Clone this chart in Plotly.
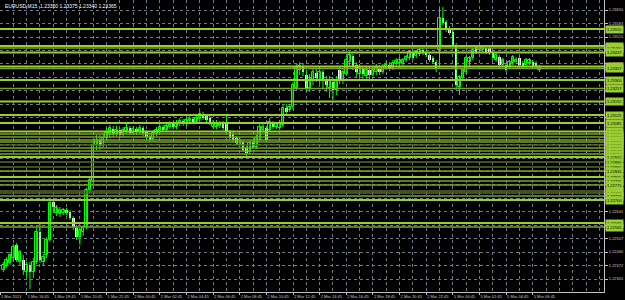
import plotly.graph_objects as go

# ---------------- data ----------------
opens = [1.22350,1.22370,1.22385,1.22410,1.22475,1.22390,1.22400,1.22340,1.22375,1.22340,
         1.22390,1.22540,1.22390,1.22425,1.22500,1.22690,1.22635,1.22630,1.22635,1.22650,
         1.22640,1.22610,1.22560,1.22515,1.22540,1.22565,1.22750,1.22790,1.22975,1.23000,
         1.22970,1.23010,1.23025,1.23055,1.23030,1.23050,1.23025,1.23045,1.23060,1.23035,
         1.23055,1.23040,1.23060,1.23040,1.23020,1.23005,1.23030,1.23045,1.23065,1.23050,
         1.23065,1.23080,1.23065,1.23080,1.23095,1.23080,1.23095,1.23105,1.23090,1.23105,
         1.23125,1.23120,1.23110,1.23065,1.23065,1.23070,1.23085,1.23090,1.23040,1.23030,
         1.23010,1.22975,1.22990,1.22960,1.22940,1.22990,1.22965,1.23000,1.23050,1.23060,
         1.23050,1.23085,1.23065,1.23060,1.23075,1.23160,1.23150,1.23165,1.23260,1.23350,
         1.23370,1.23325,1.23260,1.23300,1.23335,1.23300,1.23340,1.23300,1.23260,1.23290,
         1.23250,1.23350,1.23300,1.23330,1.23390,1.23420,1.23375,1.23330,1.23360,1.23320,
         1.23350,1.23325,1.23340,1.23360,1.23340,1.23360,1.23375,1.23360,1.23380,1.23385,
         1.23380,1.23400,1.23410,1.23440,1.23420,1.23430,1.23450,1.23440,1.23425,1.23410,
         1.23390,1.23450,1.23610,1.23590,1.23560,1.23540,1.23475,1.23265,1.23310,1.23340,
         1.23390,1.23410,1.23465,1.23450,1.23450,1.23460,1.23460,1.23435,1.23400,1.23415,
         1.23375,1.23375,1.23365,1.23385,1.23390,1.23410,1.23385,1.23375,1.23385,1.23390,
         1.23385,1.23350]
highs = [1.22390,1.22415,1.22440,1.22480,1.22485,1.22450,1.22425,1.22390,1.22390,1.22410,
         1.22560,1.22590,1.22430,1.22515,1.22695,1.22705,1.22675,1.22665,1.22660,1.22660,
         1.22650,1.22620,1.22575,1.22560,1.22575,1.22760,1.22810,1.23000,1.23025,1.23025,
         1.23035,1.23060,1.23075,1.23070,1.23070,1.23060,1.23065,1.23080,1.23070,1.23070,
         1.23065,1.23075,1.23070,1.23050,1.23035,1.23050,1.23065,1.23080,1.23075,1.23085,
         1.23095,1.23090,1.23100,1.23110,1.23105,1.23115,1.23120,1.23115,1.23125,1.23145,
         1.23140,1.23130,1.23120,1.23100,1.23100,1.23095,1.23095,1.23125,1.23050,1.23040,
         1.23020,1.23015,1.23000,1.22970,1.23000,1.23000,1.23025,1.23080,1.23080,1.23070,
         1.23110,1.23095,1.23090,1.23100,1.23175,1.23180,1.23180,1.23290,1.23380,1.23390,
         1.23385,1.23350,1.23330,1.23360,1.23360,1.23370,1.23350,1.23320,1.23320,1.23310,
         1.23320,1.23370,1.23360,1.23420,1.23440,1.23430,1.23390,1.23380,1.23370,1.23370,
         1.23365,1.23370,1.23380,1.23375,1.23380,1.23395,1.23390,1.23400,1.23410,1.23415,
         1.23410,1.23425,1.23450,1.23450,1.23450,1.23460,1.23460,1.23450,1.23435,1.23420,
         1.23400,1.23660,1.23665,1.23600,1.23570,1.23550,1.23485,1.23325,1.23360,1.23420,
         1.23420,1.23460,1.23475,1.23475,1.23475,1.23470,1.23470,1.23445,1.23435,1.23425,
         1.23410,1.23385,1.23400,1.23425,1.23415,1.23420,1.23395,1.23410,1.23410,1.23400,
         1.23395,1.23375]
lows = [1.22340,1.22360,1.22375,1.22390,1.22390,1.22375,1.22325,1.22315,1.22255,1.22310,
        1.22380,1.22385,1.22370,1.22410,1.22490,1.22650,1.22620,1.22615,1.22625,1.22625,
        1.22600,1.22550,1.22500,1.22475,1.22520,1.22555,1.22735,1.22775,1.22950,1.22950,
        1.22960,1.23000,1.23010,1.23015,1.23020,1.23010,1.23015,1.23030,1.23025,1.23025,
        1.23025,1.23030,1.23020,1.23005,1.22990,1.22995,1.23020,1.23035,1.23040,1.23040,
        1.23055,1.23055,1.23055,1.23070,1.23070,1.23070,1.23085,1.23080,1.23080,1.23095,
        1.23100,1.23090,1.23075,1.23055,1.23055,1.23060,1.23050,1.23030,1.23000,1.22990,
        1.22975,1.22965,1.22940,1.22910,1.22930,1.22955,1.22955,1.22990,1.23040,1.22990,
        1.23040,1.23055,1.23055,1.23050,1.23065,1.23130,1.23140,1.23155,1.23250,1.23325,
        1.23320,1.23240,1.23240,1.23275,1.23290,1.23280,1.23260,1.23240,1.23210,1.23200,
        1.23225,1.23280,1.23280,1.23320,1.23370,1.23350,1.23310,1.23310,1.23300,1.23300,
        1.23305,1.23310,1.23325,1.23325,1.23330,1.23350,1.23345,1.23350,1.23370,1.23370,
        1.23370,1.23390,1.23400,1.23400,1.23410,1.23420,1.23425,1.23415,1.23390,1.23380,
        1.23340,1.23370,1.23575,1.23540,1.23525,1.23465,1.23250,1.23225,1.23300,1.23330,
        1.23365,1.23400,1.23430,1.23440,1.23440,1.23430,1.23425,1.23400,1.23390,1.23360,
        1.23365,1.23340,1.23355,1.23375,1.23380,1.23365,1.23355,1.23365,1.23375,1.23360,
        1.23355,1.23340]
closes = [1.22375,1.22400,1.22425,1.22465,1.22400,1.22440,1.22350,1.22375,1.22340,1.22390,
          1.22540,1.22400,1.22415,1.22500,1.22685,1.22665,1.22660,1.22650,1.22650,1.22635,
          1.22610,1.22565,1.22515,1.22550,1.22565,1.22750,1.22800,1.22975,1.23000,1.22970,
          1.23010,1.23035,1.23060,1.23030,1.23050,1.23025,1.23050,1.23060,1.23035,1.23055,
          1.23040,1.23060,1.23035,1.23015,1.23000,1.23035,1.23050,1.23065,1.23050,1.23070,
          1.23080,1.23065,1.23085,1.23095,1.23080,1.23100,1.23105,1.23090,1.23110,1.23130,
          1.23110,1.23100,1.23085,1.23085,1.23080,1.23080,1.23060,1.23040,1.23010,1.23000,
          1.22985,1.23000,1.22950,1.22935,1.22985,1.22965,1.23010,1.23065,1.23065,1.23000,
          1.23090,1.23065,1.23080,1.23080,1.23160,1.23140,1.23165,1.23275,1.23360,1.23370,
          1.23340,1.23260,1.23310,1.23340,1.23310,1.23340,1.23300,1.23275,1.23300,1.23250,
          1.23300,1.23300,1.23340,1.23400,1.23425,1.23370,1.23340,1.23360,1.23330,1.23350,
          1.23325,1.23350,1.23360,1.23340,1.23365,1.23375,1.23360,1.23385,1.23395,1.23400,
          1.23400,1.23415,1.23440,1.23410,1.23440,1.23450,1.23435,1.23425,1.23400,1.23390,
          1.23360,1.23610,1.23585,1.23550,1.23535,1.23475,1.23275,1.23315,1.23350,1.23410,
          1.23410,1.23450,1.23440,1.23465,1.23465,1.23440,1.23435,1.23410,1.23425,1.23375,
          1.23400,1.23350,1.23390,1.23415,1.23400,1.23375,1.23365,1.23400,1.23400,1.23370,
          1.23365,1.23365]
bars = list(range(1, len(opens) + 1))

time_labels = ["1 Mar 2013", "1 Mar 16:45", "1 Mar 18:45", "1 Mar 20:45", "1 Mar 22:45",
               "2 Mar 00:45", "2 Mar 02:45", "2 Mar 04:45", "2 Mar 06:45", "2 Mar 08:45",
               "2 Mar 10:45", "2 Mar 12:45", "2 Mar 14:45", "2 Mar 16:45", "2 Mar 18:45",
               "2 Mar 20:45", "2 Mar 22:45", "5 Mar 00:45", "5 Mar 02:45", "5 Mar 04:45",
               "5 Mar 06:45"]
time_label_bars = [0, 8, 16, 24, 32, 40, 48, 56, 64, 72, 80, 88, 96, 104, 112, 120,
                   128, 136, 144, 152, 160]

# price-scale grid values and the labels shown (blank where hidden by level boxes)
price_grid = [1.23650, 1.23583, 1.23515, 1.23448, 1.23381, 1.23314, 1.23246, 1.23179,
              1.23112, 1.23045, 1.22978, 1.22910, 1.22843, 1.22776, 1.22709, 1.22641,
              1.22574, 1.22507, 1.22440, 1.22372, 1.22305]
price_grid_text = ["1.23650", "1.23583", "1.23515", "", "1.23381", "", "", "",
                   "", "", "", "", "", "", "", "1.22641",
                   "", "1.22507", "1.22440", "1.22372", "1.22305"]

# horizontal price levels and their strength (2 = bright, 1 = medium, 0 = dark)
levels = [1.23555, 1.23470, 1.23460, 1.23437, 1.23367, 1.23357, 1.23300, 1.23257,
          1.23192, 1.23125, 1.23085, 1.23042, 1.23030, 1.23015, 1.23000, 1.22990,
          1.22975, 1.22960, 1.22945, 1.22930, 1.22915, 1.22890, 1.22865, 1.22845,
          1.22815, 1.22795, 1.22775, 1.22745, 1.22735, 1.22720, 1.22700, 1.22585,
          1.22565]
level_strength = [2, 2, 1, 2, 2, 1, 2, 1,
                  2, 2, 2, 2, 1, 1, 1, 1,
                  0, 1, 1, 1, 2, 0, 0, 1,
                  2, 1, 1, 0, 0, 1, 2, 2,
                  1]

title_text = "EURUSD,M15  1.23350 1.23375 1.23340 1.23365"

# ---------------- figure ----------------
LIME = "#00ff00"
fig = go.Figure()

# wicks
wx, wy = [], []
for b, h, l in zip(bars, highs, lows):
    wx += [b, b, None]
    wy += [l, h, None]
fig.add_trace(go.Scatter(x=wx, y=wy, mode="lines", line=dict(color=LIME, width=1),
                         hoverinfo="skip", showlegend=False))

# bodies
up_x, up_base, up_h, dn_x, dn_base, dn_h = [], [], [], [], [], []
for b, o, c in zip(bars, opens, closes):
    if c >= o:
        up_x.append(b); up_base.append(o); up_h.append(max(c - o, 0.00003))
    else:
        dn_x.append(b); dn_base.append(c); dn_h.append(max(o - c, 0.00003))
fig.add_trace(go.Bar(x=up_x, y=up_h, base=up_base, width=0.75,
                     marker=dict(color="#000000", line=dict(color=LIME, width=1)),
                     hoverinfo="skip", showlegend=False))
fig.add_trace(go.Bar(x=dn_x, y=dn_h, base=dn_base, width=0.75,
                     marker=dict(color="#ffffff", line=dict(color="#ffffff", width=0)),
                     hoverinfo="skip", showlegend=False))

line_colors = {2: "#9acd32", 1: "#7ba428", 0: "#556b2f"}
line_widths = {2: 2, 1: 1.5, 0: 1.5}
for p, s in zip(levels, level_strength):
    fig.add_shape(type="line", xref="paper", x0=0, x1=1, yref="y", y0=p, y1=p,
                  line=dict(color=line_colors[s], width=line_widths[s]), layer="above")
for p, s in zip(levels, level_strength):
    fig.add_annotation(x=1, xref="paper", y=p, yref="y", xanchor="left", yanchor="middle",
                       text=f"{p:.5f}", showarrow=False,
                       font=dict(family="Liberation Sans", size=4, color="#000000"),
                       bgcolor="#9acd32", borderpad=1, xshift=1)

fig.add_annotation(x=0, xref="paper", y=1, yref="paper", xanchor="left", yanchor="top",
                   text=title_text, showarrow=False, xshift=3, yshift=-1,
                   font=dict(family="Liberation Sans", size=5, color="#ffffff"))

grid_col = "#6f7a8a"
fig.update_layout(
    width=625, height=300,
    margin=dict(l=0, r=21, t=0, b=8),
    paper_bgcolor="#000000", plot_bgcolor="#000000",
    font=dict(family="Liberation Sans", size=4, color="#c8c8c8"),
    bargap=0,
    xaxis=dict(
        range=[0, 181.4],
        tickvals=time_label_bars, ticktext=time_labels, tickangle=0,
        ticklabelposition="outside right", ticks="outside", ticklen=2, tickcolor="#c0c0c0",
        showgrid=True, gridcolor=grid_col, griddash="dot", gridwidth=1,
        minor=dict(dtick=4, tick0=0, showgrid=True, gridcolor=grid_col, griddash="dot"),
        showline=True, linecolor="#c0c0c0", linewidth=1, mirror=True,
        zeroline=False, tickfont=dict(size=4, color="#c8c8c8"),
    ),
    yaxis=dict(
        range=[1.22240, 1.23700], side="right",
        tickvals=price_grid, ticktext=price_grid_text,
        ticks="outside", ticklen=3, tickcolor="#c0c0c0",
        showgrid=True, gridcolor=grid_col, griddash="dot", gridwidth=1,
        showline=True, linecolor="#c0c0c0", linewidth=1, mirror=True,
        zeroline=False, tickfont=dict(size=4, color="#c8c8c8"),
    ),
)

fig.write_html("out.html")
